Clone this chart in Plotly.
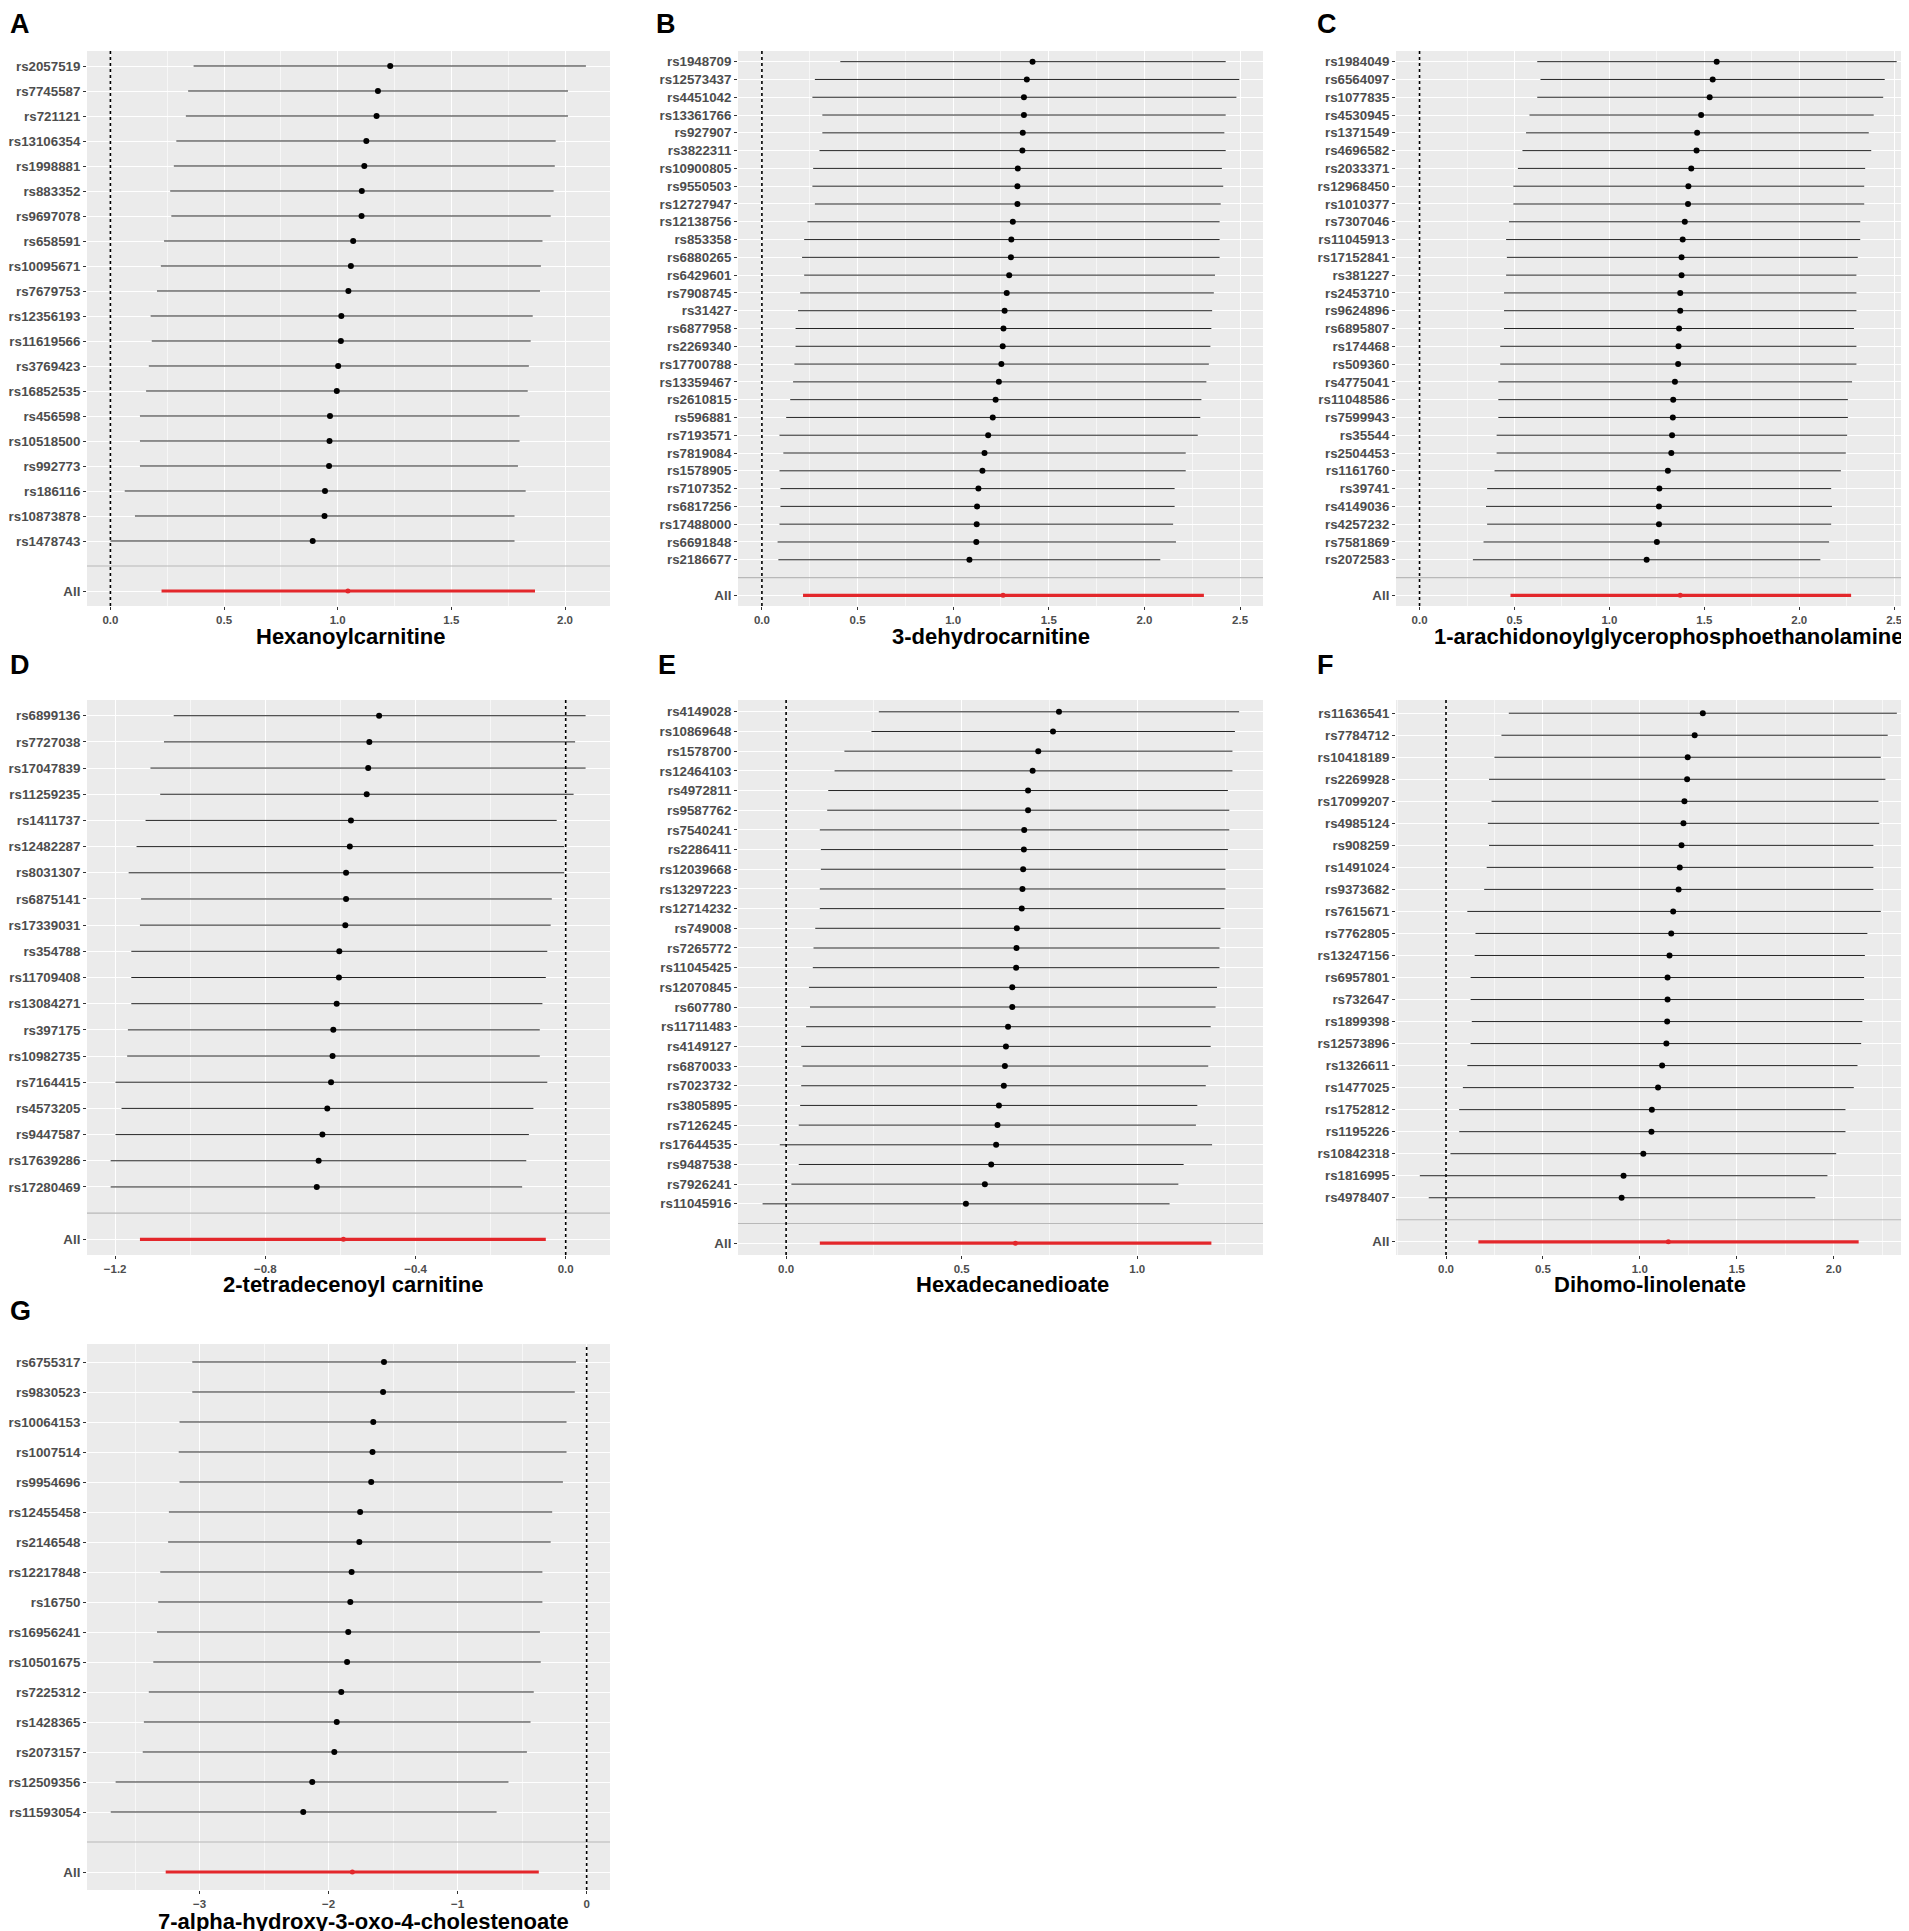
import plotly.graph_objects as go

# --- データ ---
# A: Hexanoylcarnitine
a_snps = ["rs2057519", "rs7745587", "rs721121", "rs13106354", "rs1998881", "rs883352", "rs9697078",
          "rs658591", "rs10095671", "rs7679753", "rs12356193", "rs11619566", "rs3769423", "rs16852535",
          "rs456598", "rs10518500", "rs992773", "rs186116", "rs10873878", "rs1478743"]
a_beta = [1.231, 1.177, 1.171, 1.126, 1.117, 1.106, 1.105, 1.068, 1.058, 1.047, 1.016, 1.014, 1.002, 0.996,
          0.966, 0.964, 0.962, 0.944, 0.942, 0.890]
a_lo = [0.366, 0.342, 0.332, 0.290, 0.279, 0.263, 0.268, 0.236, 0.222, 0.205, 0.177, 0.182, 0.169, 0.157,
        0.130, 0.130, 0.130, 0.063, 0.108, 0.000]
a_hi = [2.092, 2.013, 2.013, 1.959, 1.955, 1.950, 1.937, 1.901, 1.894, 1.890, 1.858, 1.849, 1.841, 1.836,
        1.800, 1.800, 1.793, 1.827, 1.778, 1.778]
a_all = [1.045, 0.225, 1.868]

# B: 3-dehydrocarnitine
b_snps = ["rs1948709", "rs12573437", "rs4451042", "rs13361766", "rs927907", "rs3822311", "rs10900805",
          "rs9550503", "rs12727947", "rs12138756", "rs853358", "rs6880265", "rs6429601", "rs7908745",
          "rs31427", "rs6877958", "rs2269340", "rs17700788", "rs13359467", "rs2610815", "rs596881",
          "rs7193571", "rs7819084", "rs1578905", "rs7107352", "rs6817256", "rs17488000", "rs6691848",
          "rs2186677"]
b_beta = [1.415, 1.385, 1.370, 1.370, 1.364, 1.362, 1.338, 1.336, 1.336, 1.312, 1.304, 1.302, 1.293, 1.280,
          1.269, 1.263, 1.259, 1.252, 1.239, 1.222, 1.207, 1.183, 1.164, 1.153, 1.132, 1.125, 1.123, 1.121,
          1.085]
b_lo = [0.410, 0.277, 0.264, 0.316, 0.316, 0.301, 0.268, 0.264, 0.277, 0.238, 0.221, 0.210, 0.221, 0.200,
        0.189, 0.176, 0.176, 0.170, 0.163, 0.148, 0.127, 0.092, 0.112, 0.092, 0.097, 0.097, 0.092, 0.082,
        0.086]
b_hi = [2.425, 2.496, 2.481, 2.425, 2.418, 2.425, 2.405, 2.412, 2.399, 2.393, 2.393, 2.393, 2.369, 2.363,
        2.354, 2.350, 2.345, 2.337, 2.324, 2.298, 2.292, 2.279, 2.216, 2.216, 2.158, 2.158, 2.150, 2.165,
        2.083]
b_all = [1.261, 0.215, 2.311]

# C: 1-arachidonoylglycerophosphoethanolamine
c_snps = ["rs1984049", "rs6564097", "rs1077835", "rs4530945", "rs1371549", "rs4696582", "rs2033371",
          "rs12968450", "rs1010377", "rs7307046", "rs11045913", "rs17152841", "rs381227", "rs2453710",
          "rs9624896", "rs6895807", "rs174468", "rs509360", "rs4775041", "rs11048586", "rs7599943",
          "rs35544", "rs2504453", "rs1161760", "rs39741", "rs4149036", "rs4257232", "rs7581869",
          "rs2072583"]
c_beta = [1.565, 1.544, 1.528, 1.483, 1.462, 1.459, 1.431, 1.416, 1.414, 1.397, 1.386, 1.380, 1.380, 1.373,
          1.373, 1.367, 1.364, 1.362, 1.345, 1.336, 1.334, 1.330, 1.326, 1.308, 1.263, 1.261, 1.261, 1.250,
          1.196]
c_lo = [0.620, 0.637, 0.620, 0.579, 0.561, 0.542, 0.518, 0.494, 0.494, 0.471, 0.456, 0.460, 0.456, 0.445,
        0.445, 0.445, 0.425, 0.425, 0.415, 0.415, 0.415, 0.406, 0.406, 0.395, 0.356, 0.350, 0.356, 0.337,
        0.281]
c_hi = [2.513, 2.450, 2.442, 2.392, 2.366, 2.379, 2.347, 2.342, 2.342, 2.321, 2.321, 2.308, 2.301, 2.301,
        2.301, 2.288, 2.301, 2.301, 2.278, 2.256, 2.256, 2.252, 2.245, 2.219, 2.168, 2.172, 2.168, 2.157,
        2.111]
c_all = [1.373, 0.479, 2.273]

# D: 2-tetradecenoyl carnitine
d_snps = ["rs6899136", "rs7727038", "rs17047839", "rs11259235", "rs1411737", "rs12482287", "rs8031307",
          "rs6875141", "rs17339031", "rs354788", "rs11709408", "rs13084271", "rs397175", "rs10982735",
          "rs7164415", "rs4573205", "rs9447587", "rs17639286", "rs17280469"]
d_beta = [-0.497, -0.523, -0.526, -0.530, -0.572, -0.575, -0.585, -0.585, -0.587, -0.603, -0.604, -0.610,
          -0.619, -0.621, -0.625, -0.635, -0.648, -0.658, -0.663]
d_lo = [-1.044, -1.070, -1.106, -1.080, -1.119, -1.143, -1.164, -1.131, -1.134, -1.157, -1.157, -1.157,
        -1.166, -1.168, -1.199, -1.183, -1.199, -1.212, -1.212]
d_hi = [0.053, 0.025, 0.053, 0.021, -0.024, -0.004, -0.004, -0.037, -0.040, -0.049, -0.053, -0.062,
        -0.069, -0.069, -0.049, -0.086, -0.098, -0.105, -0.116]
d_all = [-0.592, -1.134, -0.053]

# E: Hexadecanedioate
e_snps = ["rs4149028", "rs10869648", "rs1578700", "rs12464103", "rs4972811", "rs9587762", "rs7540241",
          "rs2286411", "rs12039668", "rs13297223", "rs12714232", "rs749008", "rs7265772", "rs11045425",
          "rs12070845", "rs607780", "rs11711483", "rs4149127", "rs6870033", "rs7023732", "rs3805895",
          "rs7126245", "rs17644535", "rs9487538", "rs7926241", "rs11045916"]
e_beta = [0.777, 0.760, 0.718, 0.702, 0.689, 0.689, 0.678, 0.677, 0.675, 0.673, 0.671, 0.657, 0.656, 0.655,
          0.644, 0.644, 0.632, 0.626, 0.623, 0.620, 0.606, 0.602, 0.598, 0.584, 0.566, 0.512]
e_lo = [0.264, 0.243, 0.166, 0.138, 0.120, 0.117, 0.096, 0.099, 0.099, 0.096, 0.096, 0.083, 0.078, 0.076,
        0.065, 0.068, 0.057, 0.043, 0.047, 0.043, 0.040, 0.036, -0.018, 0.036, 0.015, -0.067]
e_hi = [1.290, 1.278, 1.271, 1.271, 1.258, 1.262, 1.262, 1.258, 1.251, 1.251, 1.248, 1.237, 1.234, 1.234,
        1.227, 1.223, 1.209, 1.209, 1.202, 1.195, 1.171, 1.167, 1.213, 1.132, 1.117, 1.092]
e_all = [0.653, 0.096, 1.211]

# F: Dihomo-linolenate
f_snps = ["rs11636541", "rs7784712", "rs10418189", "rs2269928", "rs17099207", "rs4985124", "rs908259",
          "rs1491024", "rs9373682", "rs7615671", "rs7762805", "rs13247156", "rs6957801", "rs732647",
          "rs1899398", "rs12573896", "rs1326611", "rs1477025", "rs1752812", "rs1195226", "rs10842318",
          "rs1816995", "rs4978407"]
f_beta = [1.325, 1.283, 1.247, 1.244, 1.230, 1.225, 1.215, 1.206, 1.200, 1.172, 1.162, 1.153, 1.143, 1.143,
          1.141, 1.137, 1.115, 1.094, 1.062, 1.060, 1.018, 0.916, 0.906]
f_lo = [0.324, 0.286, 0.250, 0.222, 0.235, 0.216, 0.222, 0.210, 0.197, 0.110, 0.152, 0.148, 0.127, 0.127,
        0.133, 0.127, 0.110, 0.087, 0.068, 0.068, 0.023, -0.135, -0.089]
f_hi = [2.326, 2.279, 2.243, 2.267, 2.231, 2.235, 2.205, 2.205, 2.205, 2.243, 2.174, 2.161, 2.157, 2.157,
        2.148, 2.142, 2.123, 2.104, 2.061, 2.061, 2.013, 1.968, 1.905]
f_all = [1.147, 0.167, 2.129]

# G: 7-alpha-hydroxy-3-oxo-4-cholestenoate
g_snps = ["rs6755317", "rs9830523", "rs10064153", "rs1007514", "rs9954696", "rs12455458", "rs2146548",
          "rs12217848", "rs16750", "rs16956241", "rs10501675", "rs7225312", "rs1428365", "rs2073157",
          "rs12509356", "rs11593054"]
g_beta = [-1.571, -1.578, -1.654, -1.660, -1.670, -1.756, -1.762, -1.822, -1.832, -1.848, -1.857, -1.902,
          -1.937, -1.956, -2.127, -2.197]
g_lo = [-3.057, -3.057, -3.156, -3.162, -3.156, -3.238, -3.244, -3.305, -3.321, -3.330, -3.359, -3.394,
        -3.432, -3.441, -3.651, -3.689]
g_hi = [-0.083, -0.092, -0.156, -0.156, -0.184, -0.267, -0.279, -0.343, -0.343, -0.362, -0.356, -0.410,
        -0.435, -0.463, -0.606, -0.698]
g_all = [-1.816, -3.263, -0.371]

titles = ["Hexanoylcarnitine", "3-dehydrocarnitine", "1-arachidonoylglycerophosphoethanolamine",
          "2-tetradecenoyl carnitine", "Hexadecanedioate", "Dihomo-linolenate",
          "7-alpha-hydroxy-3-oxo-4-cholestenoate"]
letters = ["A", "B", "C", "D", "E", "F", "G"]

panels = [
    (a_snps, a_beta, a_lo, a_hi, a_all),
    (b_snps, b_beta, b_lo, b_hi, b_all),
    (c_snps, c_beta, c_lo, c_hi, c_all),
    (d_snps, d_beta, d_lo, d_hi, d_all),
    (e_snps, e_beta, e_lo, e_hi, e_all),
    (f_snps, f_beta, f_lo, f_hi, f_all),
    (g_snps, g_beta, g_lo, g_hi, g_all),
]

# --- レイアウト（ピクセル） ---
W, H = 1909, 1931
cols = [(79, 602), (730, 1255), (1388, 1909)]
rows = [(43, 598), (692, 1247), (1336, 1882)]
x_ranges = [[-0.103, 2.198], [-0.125, 2.62], [-0.124, 2.62], [-1.275, 0.118], [-0.137, 1.358],
            [-0.258, 2.43], [-3.873, 0.181]]
dticks = [0.5, 0.5, 0.5, 0.4, 0.5, 0.5, 1.0]
tick0s = [0, 0, 0, -1.2, 0, 0, 0]
tickfmt = [".1f", ".1f", ".1f", ".1f", ".1f", ".1f", "d"]
title_x = [343, 983, 1660, 345, 1004, 1642, 355]
title_y = [628, 628, 628, 1276, 1276, 1276, 1913]
letter_pos = [(0, 16), (646, 16), (1307, 16), (0, 657), (648, 657), (1307, 657), (0, 1303)]

GREY_TXT = "#4D4D4D"
RED = "#E3272B"
FONT = "Liberation Sans, Arial, sans-serif"

fig = go.Figure()
layout = dict(width=W, height=H, margin=dict(l=0, r=0, t=0, b=0, autoexpand=False),
              paper_bgcolor="white", plot_bgcolor="#EBEBEB", showlegend=False,
              font=dict(family=FONT))
shapes = []
annotations = []

for k, (snps, beta, lo, hi, allv) in enumerate(panels):
    idx = k + 1
    sfx = "" if idx == 1 else str(idx)
    r, c = divmod(k, 3)
    n = len(snps)
    ypos = list(range(n))

    # 各SNPの推定値と信頼区間
    fig.add_trace(go.Scatter(
        x=beta, y=ypos, mode="markers",
        marker=dict(color="black", size=6),
        error_x=dict(type="data", symmetric=False,
                     array=[h - b for h, b in zip(hi, beta)],
                     arrayminus=[b - l for b, l in zip(beta, lo)],
                     width=0, thickness=1, color="#262626"),
        xaxis="x" + sfx, yaxis="y" + sfx, hoverinfo="skip"))

    # All（赤）
    fig.add_trace(go.Scatter(
        x=[allv[0]], y=[n + 1], mode="markers",
        marker=dict(color=RED, size=5),
        error_x=dict(type="data", symmetric=False,
                     array=[allv[2] - allv[0]], arrayminus=[allv[0] - allv[1]],
                     width=0, thickness=3.2, color=RED),
        xaxis="x" + sfx, yaxis="y" + sfx, hoverinfo="skip"))

    x0, x1 = cols[c]
    y0, y1 = rows[r]
    layout["xaxis" + sfx] = dict(
        domain=[x0 / W, x1 / W], anchor="y" + sfx, range=x_ranges[k], automargin=False,
        tick0=tick0s[k], dtick=dticks[k], tickformat=tickfmt[k],
        showgrid=True, gridcolor="white", gridwidth=1.3, zeroline=False,
        minor=dict(dtick=dticks[k] / 2, tick0=tick0s[k], showgrid=True,
                   gridcolor="#F7F7F7", gridwidth=0.6),
        ticks="outside", ticklen=3, tickcolor="#333333", tickwidth=1,
        tickfont=dict(size=11.5, color=GREY_TXT, weight="bold"), showline=False)
    layout["yaxis" + sfx] = dict(
        domain=[1 - y1 / H, 1 - y0 / H], anchor="x" + sfx, automargin=False,
        range=[n + 1.6, -0.6], tickmode="array",
        tickvals=ypos + [n + 1], ticktext=snps + ["All"],
        showgrid=True, gridcolor="white", gridwidth=1.3, zeroline=False,
        ticks="outside", ticklen=3, tickcolor="#333333", tickwidth=1,
        tickfont=dict(size=13.3, color=GREY_TXT, family=FONT, weight="bold"),
        showline=False)

    # 区切り線と0の点線
    shapes.append(dict(type="line", xref="x" + sfx + " domain", x0=0, x1=1,
                       yref="y" + sfx, y0=n, y1=n, line=dict(color="#B8B8B8", width=1.2),
                       layer="above"))
    shapes.append(dict(type="line", xref="x" + sfx, x0=0, x1=0,
                       yref="y" + sfx + " domain", y0=0, y1=1,
                       line=dict(color="black", width=1.6, dash="dot"), layer="above"))

    annotations.append(dict(text="<b>" + titles[k] + "</b>", x=title_x[k] / W, y=1 - title_y[k] / H,
                            xref="paper", yref="paper", xanchor="center", yanchor="middle",
                            showarrow=False, font=dict(size=22, color="black")))
    lx, ly = letter_pos[k]
    annotations.append(dict(text="<b>" + letters[k] + "</b>", x=lx / W, y=1 - ly / H,
                            xref="paper", yref="paper", xanchor="left", yanchor="middle",
                            showarrow=False, font=dict(size=27, color="black")))

layout["shapes"] = shapes
layout["annotations"] = annotations
fig.update_layout(**layout)

fig.write_html("out.html")
